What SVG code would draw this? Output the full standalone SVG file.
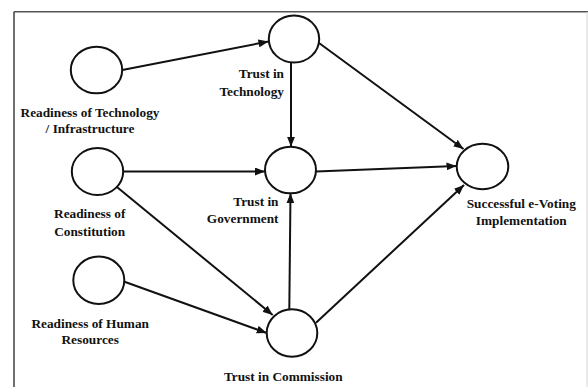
<svg xmlns="http://www.w3.org/2000/svg" width="588" height="387" viewBox="0 0 588 387">
<style>
.node ellipse{fill:#fff;stroke:#111;stroke-width:2}
.lbl{font-family:"Liberation Serif","Times New Roman",serif;font-weight:bold;font-size:13.3px;fill:#111}
.c{text-anchor:middle}
.e{text-anchor:end}
#connectors line{stroke:#111;stroke-width:2;fill:none;marker-end:url(#arr)}
</style>
<defs>
<marker id="arr" markerUnits="userSpaceOnUse" markerWidth="10" markerHeight="8" refX="10" refY="4" orient="auto">
<path d="M0,0 L10,4 L0,8 z" fill="#111"/>
</marker>
</defs>
<rect width="588" height="387" fill="#fff"/>
<line x1="14" y1="11.8" x2="588" y2="11.8" stroke="#555" stroke-width="1.4"/>
<line x1="14" y1="11.8" x2="14" y2="387" stroke="#333" stroke-width="1.4"/>
<line x1="587" y1="12" x2="587" y2="387" stroke="#ddd" stroke-width="1.2"/>
<g id="connectors">
<line x1="122.3" y1="70" x2="268.5" y2="41.5"/>
<line x1="123" y1="171.5" x2="265" y2="171.5"/>
<line x1="291" y1="62.5" x2="291" y2="146.7"/>
<line x1="319" y1="43" x2="463.5" y2="149"/>
<line x1="316" y1="171.5" x2="456.5" y2="166"/>
<line x1="289.3" y1="309.3" x2="290.5" y2="193.3"/>
<line x1="316" y1="322.7" x2="464" y2="185"/>
<line x1="116.6" y1="186.7" x2="272.7" y2="315"/>
<line x1="124.5" y1="281.7" x2="266.7" y2="333"/>
</g>
<g id="readiness-technology" class="node">
<ellipse cx="96.5" cy="70" rx="25.7" ry="23.3"/>
<text class="lbl c" x="90" y="116.7">Readiness of Technology</text>
<text class="lbl c" x="90" y="133.3">/ Infrastructure</text>
</g>
<g id="trust-technology" class="node">
<ellipse cx="294" cy="39" rx="25.2" ry="23.5"/>
<text class="lbl e" x="284" y="78.3">Trust in</text>
<text class="lbl e" x="284" y="95.7">Technology</text>
</g>
<g id="readiness-constitution" class="node">
<ellipse cx="97.5" cy="171.5" rx="25.7" ry="23.5"/>
<text class="lbl c" x="89.7" y="218.3">Readiness of</text>
<text class="lbl c" x="89.7" y="235.7">Constitution</text>
</g>
<g id="trust-government" class="node">
<ellipse cx="290.5" cy="170" rx="25.5" ry="23.3"/>
<text class="lbl e" x="278.5" y="205.5">Trust in</text>
<text class="lbl e" x="278.5" y="222.8">Government</text>
</g>
<g id="readiness-human" class="node">
<ellipse cx="98.8" cy="280.3" rx="25.5" ry="23.7"/>
<text class="lbl c" x="90.2" y="327.7">Readiness of Human</text>
<text class="lbl c" x="90.2" y="344.3">Resources</text>
</g>
<g id="trust-commission" class="node">
<ellipse cx="292" cy="333" rx="25.3" ry="23.7"/>
<text class="lbl c" x="283.3" y="380.7">Trust in Commission</text>
</g>
<g id="successful-evoting" class="node">
<ellipse cx="482.5" cy="166.5" rx="25.8" ry="22.8"/>
<text class="lbl c" x="521.3" y="208.3">Successful e-Voting</text>
<text class="lbl c" x="521.3" y="225">Implementation</text>
</g>
</svg>
